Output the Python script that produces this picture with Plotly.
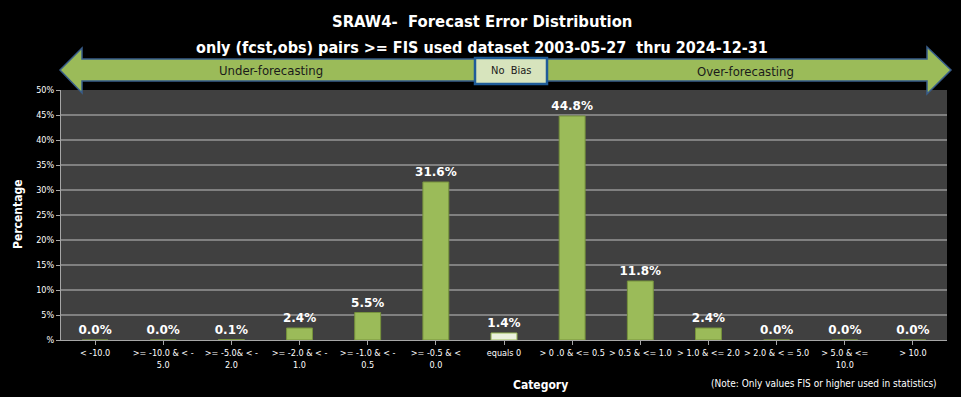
import plotly.graph_objects as go

categories = ["< -10.0", ">= -10.0 & < -<br>5.0", ">= -5.0& < -<br>2.0", ">= -2.0 & < -<br>1.0",
              ">= -1.0 & < -<br>0.5", ">= -0.5 & <<br>0.0", "equals 0", "> 0 .0 & <= 0.5",
              "> 0.5 & <= 1.0", "> 1.0 & <= 2.0", "> 2.0 & < = 5.0", "> 5.0 & <=<br>10.0", "> 10.0"]
values = [0.0, 0.0, 0.1, 2.4, 5.5, 31.6, 1.4, 44.8, 11.8, 2.4, 0.0, 0.0, 0.0]
ytick_vals = [0, 5, 10, 15, 20, 25, 30, 35, 40, 45, 50]
ytick_text = ["%", "5%", "10%", "15%", "20%", "25%", "30%", "35%", "40%", "45%", "50%"]

fill = ["#EBF1DE" if c == "equals 0" else "#9BBB59" for c in categories]
edge = ["#9BBB59" if c == "equals 0" else "#76923C" for c in categories]

fig = go.Figure()
fig.add_bar(x=list(range(len(categories))), y=values, width=0.38,
            marker=dict(color=fill, line=dict(color=edge, width=1)),
            text=[f"<b>{v:.1f}%</b>" for v in values], textposition="outside",
            constraintext="none",
            textfont=dict(family="DejaVu Sans", size=12, color="white"),
            cliponaxis=False)

# layout geometry in pixels -> paper
L, R, T, B = 61, 947, 90, 340
def px(x): return (x - L) / (R - L)
def py(y): return (B - y) / (B - T)

arrow_pts = [(60, 70), (82, 48), (82, 59), (927, 59), (927, 47), (951, 70), (927, 94), (927, 81), (82, 81), (82, 93)]
path = "M " + " L ".join(f"{px(x):.5f},{py(y):.5f}" for x, y in arrow_pts) + " Z"
shapes = [
    dict(type="path", xref="paper", yref="paper", path=path,
         fillcolor="#9BBB59", line=dict(color="#385D8A", width=1.5), layer="above"),
    dict(type="rect", xref="paper", yref="paper", x0=px(475), x1=px(547), y0=py(84), y1=py(58),
         fillcolor="#D7E4BD", line=dict(color="#1F5C99", width=2.5), layer="above"),
]

def ann(text, x, y, size, color="white", **kw):
    return dict(text=text, x=px(x), y=py(y), xref="paper", yref="paper", showarrow=False,
                xanchor="center", yanchor="middle",
                font=dict(family="DejaVu Sans Condensed", size=size, color=color), **kw)

annotations = [
    ann("Under-forecasting", 271, 71, 13, "#1a1a1a"),
    ann("No  Bias", 511, 71, 11, "#1a1a1a"),
    ann("Over-forecasting", 745, 72, 13, "#1a1a1a"),
    ann("(Note: Only values FIS or higher used in statistics)", 824, 383, 10),
    ann("<b>SRAW4-  Forecast Error Distribution</b>", 482, 21, 16.5),
    ann("<b>only (fcst,obs) pairs >= FIS used dataset 2003-05-27  thru 2024-12-31</b>", 482, 47, 16),
    ann("<b>Category</b>", 540, 385, 12),
    ann("<b>Percentage</b>", 18, 215, 12, textangle=-90),
]

fig.update_layout(
    width=961, height=397,
    margin=dict(l=L, r=961 - R, t=T, b=397 - B, autoexpand=False),
    paper_bgcolor="black", plot_bgcolor="#404040",
    showlegend=False,
    shapes=shapes, annotations=annotations,
    xaxis=dict(tickmode="array", tickvals=list(range(len(categories))), ticktext=categories,
               range=[-0.5, len(categories) - 0.5], showgrid=False, zeroline=False, automargin=False,
               showline=True, linecolor="#a6a6a6", ticks="outside", ticklen=4, tickcolor="#a6a6a6",
               tickangle=0,
               tickfont=dict(family="DejaVu Sans Condensed", size=9, color="white")),
    yaxis=dict(range=[0, 50], tickvals=ytick_vals, ticktext=ytick_text, automargin=False,
               showgrid=True, gridcolor="#808080", gridwidth=1.5, zeroline=False,
               showline=True, linecolor="#a6a6a6", ticks="outside", ticklen=4, tickcolor="#a6a6a6",
               tickfont=dict(family="DejaVu Sans Condensed", size=9, color="white")),
)

fig.write_html("out.html", config={"displayModeBar": False},
               post_script="document.body.style.margin='0';document.body.style.background='black';")
